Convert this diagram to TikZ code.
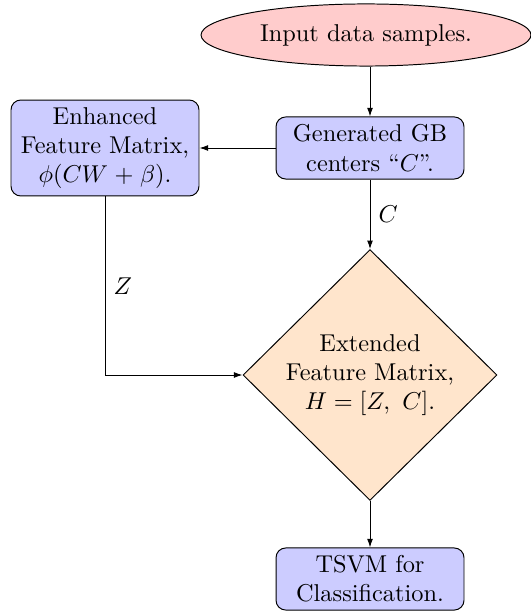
\documentclass[tikz,border=0pt]{standalone}
\usetikzlibrary{shapes.geometric,arrows.meta}
\begin{document}
\begin{tikzpicture}[x=0.41068pt,y=-0.41068pt,
  startnode/.style={ellipse, draw, fill=red!20, minimum width=135.5pt, minimum height=25.5pt, inner sep=0pt},
  procbox/.style={rectangle, rounded corners=4pt, draw, fill=blue!20, minimum width=77.2pt, text width=72pt, align=center, inner xsep=2.6pt, inner ysep=1pt},
  decbox/.style={diamond, draw, fill=orange!20, aspect=1, minimum width=104.3pt, minimum height=103pt, inner sep=0pt, align=center},
  conn/.style={-{Latex[length=3.5pt,width=2.4pt]}},
]
\useasboundingbox (0,0) rectangle (531,612);
\node[startnode] (inp) at (366,35) {Input data samples.};
\node[procbox, minimum height=25.5pt] (gb) at (370,148) {Generated GB\\ centers ``$C$''.};
\node[procbox, minimum height=39.4pt] (enh) at (105,148) {Enhanced\\ Feature Matrix,\\ $\phi(CW+\beta)$.};
\node[decbox] (ext) at (370,375) {Extended\\ Feature Matrix,\\ $H=[Z,\ C]$.};
\node[procbox, minimum height=25.5pt] (tsvm) at (370,579) {TSVM for\\ Classification.};
\draw[conn] (gb |- inp.south) -- (gb);
\draw[conn] (gb) -- (enh);
\draw[conn] (gb) -- node[right] (lc) {$C$} (ext);
\draw[conn] (enh) |- node[right, pos=0.25] (lz) {$Z$} (ext);
\draw[conn] (ext) -- (tsvm);
\end{tikzpicture}
\end{document}
